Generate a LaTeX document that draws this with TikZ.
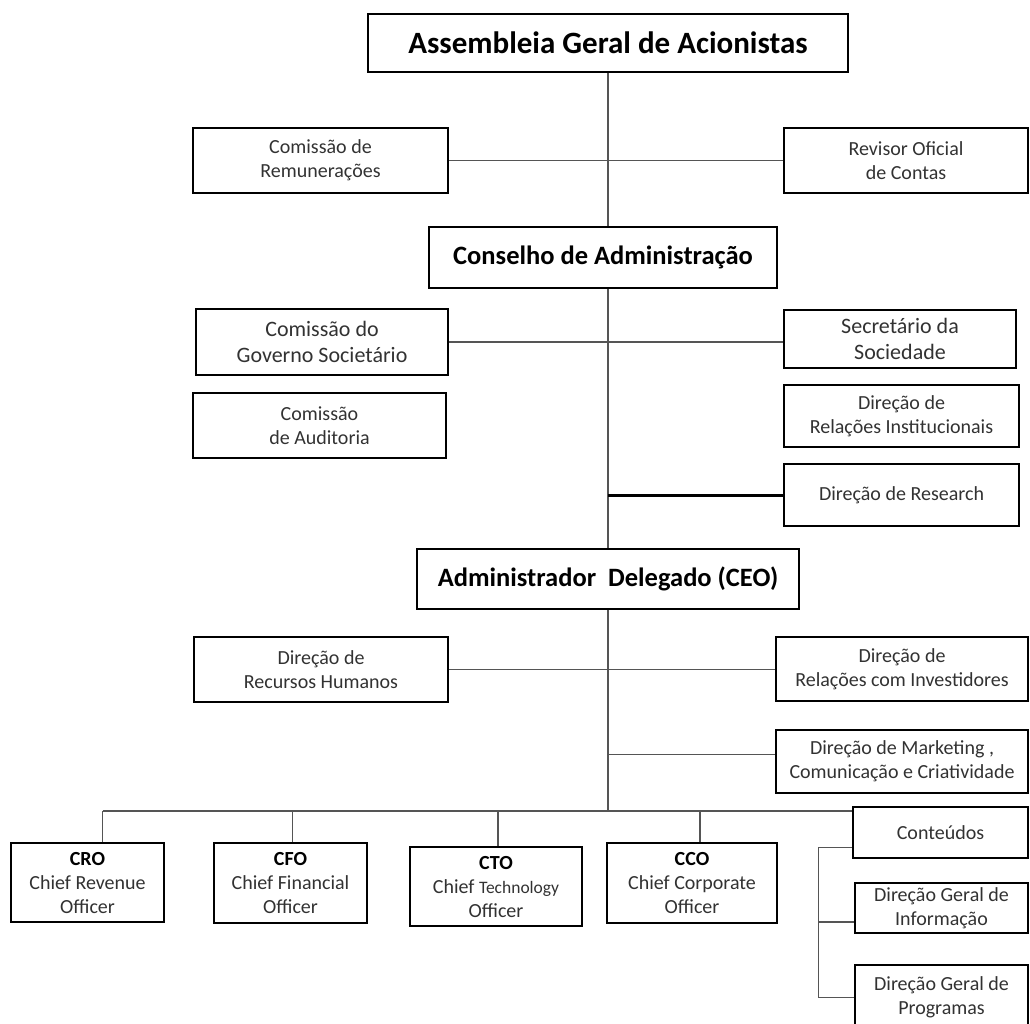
\documentclass[tikz,border=0pt]{standalone}
\usepackage{fontspec}
\setmainfont{Carlito}
\usepackage{tikz}
\usetikzlibrary{calc, positioning}
\definecolor{linegray}{RGB}{85, 85, 85}
\definecolor{textgray}{RGB}{50, 50, 50}

\begin{document}
\begin{tikzpicture}[x=1pt, y=-1pt,
    box/.style={draw=black, line width=1.8pt, inner sep=0pt, align=center, text=textgray, font=\fontsize{20}{24}\selectfont},
    headbox/.style={box, text=black, font=\fontsize{26.5}{30}\selectfont\bfseries},
    link/.style={draw=linegray, line width=1.2pt},
    heavylink/.style={draw=black, line width=3pt}]
  \useasboundingbox (0,0) rectangle (1030,1023);

  % Shareholders and board
  \node[headbox, minimum width=480pt, minimum height=58pt, font=\fontsize{31}{36}\selectfont\bfseries] (agm) at (608,43) {Assembleia Geral de Acionistas};
  \node[box, minimum width=255pt, minimum height=65pt] (remun) at (320.5,160.5) {Comissão de\\Remunerações};
  \node[box, minimum width=244pt, minimum height=65pt] (revisor) at (906,160.5) {Revisor Oficial\\de Contas};
  \node[headbox, minimum width=348pt, minimum height=61pt] (conselho) at (603,257.5) {Conselho de Administração};

  \node[box, minimum width=252pt, minimum height=66pt, font=\fontsize{22}{26}\selectfont] (governo) at (322,342) {Comissão do\\Governo Societário};
  \node[box, minimum width=232pt, minimum height=58pt, font=\fontsize{22}{26}\selectfont] (secretario) at (900,339) {Secretário da\\Sociedade};
  \node[box, minimum width=253pt, minimum height=65pt] (auditoria) at (319.5,425.5) {Comissão\\de Auditoria};
  \node[box, minimum width=235pt, minimum height=62pt] (relinst) at (901.5,416) {Direção de\\Relações Institucionais};
  \node[box, minimum width=235pt, minimum height=62pt] (research) at (901.5,495) {Direção de Research};

  % Executive level
  \node[headbox, minimum width=382pt, minimum height=60pt] (ceo) at (608,579) {Administrador~~Delegado (CEO)};
  \node[box, minimum width=254pt, minimum height=65pt] (rh) at (321,669.5) {Direção de\\Recursos Humanos};
  \node[box, minimum width=252pt, minimum height=64pt] (investidores) at (902,669) {Direção de\\Relações com Investidores};
  \node[box, minimum width=252pt, minimum height=63pt] (marketing) at (902,761.5) {Direção de Marketing ,\\Comunicação e Criatividade};

  \node[box, minimum width=153pt, minimum height=79pt] (cro) at (87.5,882.5) {{\color{black}\bfseries CRO}\\Chief Revenue\\Officer};
  \node[box, minimum width=153pt, minimum height=80pt] (cfo) at (290.5,883) {{\color{black}\bfseries CFO}\\Chief Financial\\Officer};
  \node[box, minimum width=172pt, minimum height=79pt] (cto) at (496,886.5) {{\color{black}\bfseries CTO}\\Chief {\fontsize{17.5}{24}\selectfont Technology}\\Officer};
  \node[box, minimum width=170pt, minimum height=80pt] (cco) at (692,883) {{\color{black}\bfseries CCO}\\Chief Corporate\\Officer};

  \node[box, minimum width=175pt, minimum height=51pt] (conteudos) at (940.5,832.5) {Conteúdos};
  \node[box, minimum width=173pt, minimum height=50pt] (dginfo) at (941.5,908) {Direção Geral de\\Informação};
  \node[box, minimum width=173pt, minimum height=65pt] (dgprog) at (941.5,997.5) {Direção Geral de\\Programas};

  \coordinate (bus) at (608,811);

  % Connectors
  \draw[link] (agm.south) -- (agm.south |- conselho.north);
  \draw[link] (remun.east) -- (revisor.west);
  \draw[link] (ceo.north |- conselho.south) -- (ceo.north);
  \draw[link] (governo.east) -- (governo.east -| secretario.west);
  \draw[heavylink] (research.west) -- (research.west -| ceo.north);

  \draw[link] (ceo.south) -- (bus);
  \draw[link] (rh.east) -- (rh.east -| investidores.west);
  \draw[link] ([yshift=7pt]marketing.west) -- ([yshift=7pt]marketing.west -| ceo.south);
  \draw[link] ([xshift=15pt]cro.north |- bus) -- (bus -| conteudos.west);
  \foreach \n/\dx in {cro/15, cfo/2, cto/2, cco/8}
    \draw[link] ([xshift=\dx pt]\n.north) -- ([xshift=\dx pt]\n.north |- bus);

  \draw[link] ([yshift=-15pt]conteudos.west) -- ++(-34,0) |- (dgprog.west);
  \draw[link] ([yshift=-14pt]dginfo.west) -- ++(-36,0);
\end{tikzpicture}
\end{document}
